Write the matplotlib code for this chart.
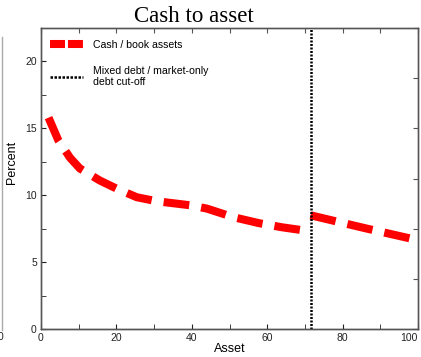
import matplotlib
matplotlib.use('Agg')
import matplotlib.pyplot as plt
from matplotlib.ticker import MultipleLocator
from matplotlib.lines import Line2D

# values
asset_left = [2.0, 4.6, 7.7, 10.3, 15.6, 20.0, 25.4, 30.7, 39.5, 44.0, 51.0, 58.0, 64.0, 71.5]
cash_left = [15.8, 14.1, 12.8, 12.0, 11.1, 10.5, 9.85, 9.55, 9.25, 9.0, 8.36, 7.9, 7.6, 7.3]
asset_right = [71.5, 77.5, 86.5, 99.0]
cash_right = [8.5, 8.1, 7.5, 6.7]
cutoff = 71.6
x_ticks = [0, 20, 40, 60, 80, 100]
y_ticks = [0, 5, 10, 15, 20]

title = 'Cash to asset'
label_cash = 'Cash / book assets'
label_cut = 'Mixed debt / market-only\ndebt cut-off'

plt.rcParams['font.family'] = ['Liberation Sans', 'DejaVu Sans']

fig = plt.figure(figsize=(4.21, 3.57), dpi=100)
ax = fig.add_axes([41 / 421, 28 / 357, 377 / 421, 301 / 357])

dash = (3.2, 1.5)
ax.plot(asset_left, cash_left, color='#ff0000', lw=5.8, dashes=dash, solid_capstyle='butt')
ax.plot(asset_right, cash_right, color='#ff0000', lw=5.8, dashes=dash, solid_capstyle='butt')
ax.axvline(cutoff, color='black', lw=1.8, linestyle=(0, (0.8, 0.6)), zorder=3)

ax.set_xlim(0, 100)
ax.set_ylim(0, 22.5)
ax.set_xticks(x_ticks)
ax.set_yticks(y_ticks)
ax.xaxis.set_minor_locator(MultipleLocator(10))
ax.yaxis.set_minor_locator(MultipleLocator(2.5))
ax.tick_params(which='both', direction='in', labelsize=7.5, colors='#222222',
               top=False, right=False, pad=3, length=3.5)
ax.get_xticklabels()[-1].set_horizontalalignment('right')

# right-hand and top ticks (unlabelled)
ax2 = ax.twinx()
ax2.set_ylim(0, 6)
ax2.yaxis.set_major_locator(MultipleLocator(1))
ax2.tick_params(direction='in', length=3.5, labelright=False, colors='#555555')
ax3 = ax.twiny()
ax3.set_xlim(0, 100)
ax3.xaxis.set_major_locator(MultipleLocator(10))
ax3.tick_params(direction='in', length=3.5, labeltop=False, colors='#555555')

for a in (ax, ax2, ax3):
    for s in a.spines.values():
        s.set_linewidth(0.9)
        s.set_color('#555555')
ax.spines['bottom'].set_color('#222222')

ax.set_xlabel('Asset', fontsize=9, labelpad=0)
ax.set_ylabel('Percent', fontsize=9)
ax.yaxis.set_label_coords(-0.061, 0.555)

handles = [Line2D([], [], color='#ff0000', lw=5.8, dashes=(1.86, 0.37)),
           Line2D([], [], color='black', lw=1.8, linestyle=(0, (1.0, 0.6)))]
ax.legend(handles, [label_cash, label_cut], loc='upper left', frameon=False,
          bbox_to_anchor=(0.024, 0.96), borderpad=0, borderaxespad=0,
          fontsize=7.6, handlelength=3.1, handletextpad=0.95, labelspacing=1.5)

fig.text(194 / 421, 1 - 17 / 357, title, ha='center', va='center',
         fontsize=16.5, family=['Liberation Serif', 'DejaVu Serif'])

# edge of the neighbouring panel
fig.add_artist(Line2D([1.5 / 421, 1.5 / 421], [1 - 37 / 357, 1 - 330 / 357],
                      color='#aaaaaa', lw=1))
fig.text(-2 / 421, 1 - 337 / 357, '0', fontsize=7.5, va='center', ha='left', color='#222222')

fig.savefig('out.png', dpi=100)
